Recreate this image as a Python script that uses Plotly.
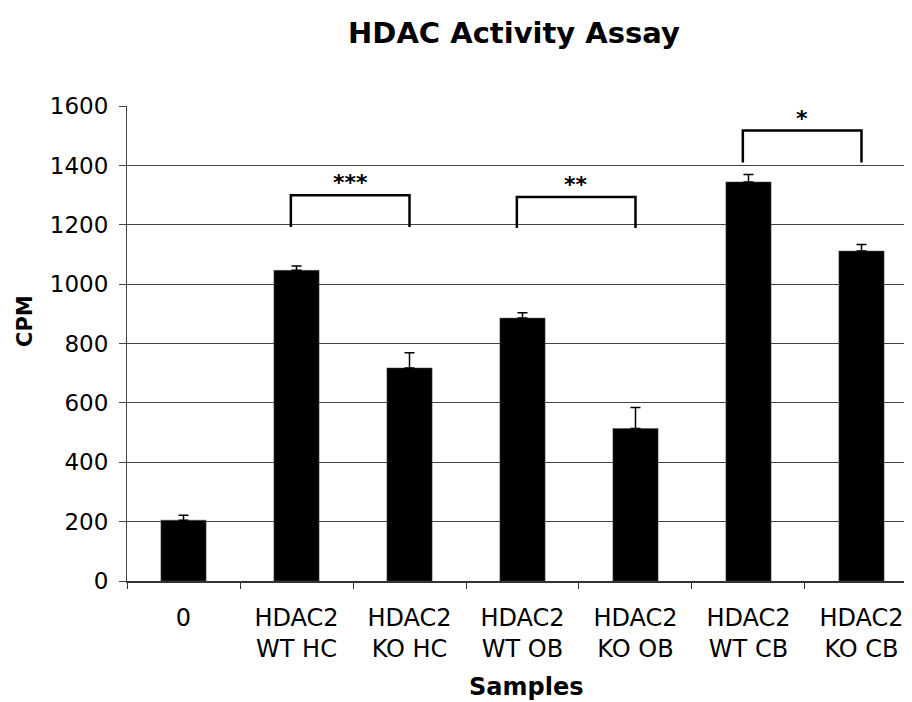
import plotly.graph_objects as go

categories = ["0", "HDAC2<br>WT HC", "HDAC2<br>KO HC", "HDAC2<br>WT OB",
              "HDAC2<br>KO OB", "HDAC2<br>WT CB", "HDAC2<br>KO CB"]
cpm = [205, 1047, 718, 886, 514, 1345, 1112]
cpm_err = [17, 15, 51, 18, 71, 25, 22]

y_ticks = [0, 200, 400, 600, 800, 1000, 1200, 1400, 1600]

# significance brackets: (left category index, right category index, top, leg bottom, label)
br_left = [1, 3, 5]
br_right = [2, 4, 6]
br_top = [1300, 1294, 1518]
br_bottom = [1193, 1190, 1410]
br_label = ["***", "**", "*"]

FONT = "DejaVu Sans"

# the page body adds an 8px offset; figure sized to fill the rest of the window
W, H = 904, 694
L, T, B = 119, 98, 121
PH = H - T - B

fig = go.Figure()
fig.add_trace(go.Bar(
    x=list(range(len(categories))), y=cpm,
    width=0.40,
    marker=dict(color="black", line=dict(color="#555555", width=0.5)),
    error_y=dict(type="data", symmetric=False, array=cpm_err,
                 arrayminus=[0] * len(cpm_err),
                 color="black", thickness=1.5, width=5),
    showlegend=False,
))

shapes = []
annotations = []
for l, r, t, b, lab in zip(br_left, br_right, br_top, br_bottom, br_label):
    x0 = l - 0.05
    x1 = r - 0.0
    shapes.append(dict(type="path", xref="x", yref="y",
                       path=f"M {x0},{b} L {x0},{t} L {x1},{t} L {x1},{b}",
                       line=dict(color="black", width=2.5)))
    annotations.append(dict(x=(x0 + x1) / 2, y=t, xref="x", yref="y",
                            text=f"<b>{lab}</b>", showarrow=False,
                            yanchor="bottom", yshift=-2,
                            font=dict(family=FONT, size=22, color="black")))

annotations.append(dict(x=(518 - L) / (W - L), y=(T + PH - 679) / PH,
                        xref="paper", yref="paper",
                        text="<b>Samples</b>", showarrow=False,
                        xanchor="center", yanchor="middle",
                        font=dict(family=FONT, size=24, color="black")))
annotations.append(dict(x=(17 - L) / (W - L), y=(T + PH - 313) / PH,
                        xref="paper", yref="paper",
                        text="<b>CPM</b>", showarrow=False, textangle=-90,
                        xanchor="center", yanchor="middle",
                        font=dict(family=FONT, size=21, color="black")))

fig.update_layout(
    width=W, height=H,
    margin=dict(l=L, r=0, t=T, b=B, pad=0),
    plot_bgcolor="white", paper_bgcolor="white",
    title=dict(text="<b>HDAC Activity Assay</b>", xref="container", yref="container",
               x=506 / W, y=1 - 25 / H, xanchor="center", yanchor="middle",
               font=dict(family=FONT, size=29, color="black")),
    font=dict(family=FONT, color="black"),
    shapes=shapes,
    annotations=annotations,
)

fig.update_xaxes(
    range=[-0.5, 6.447],
    tickmode="array", tickvals=list(range(len(categories))), ticktext=categories,
    showline=True, linecolor="#333333", linewidth=1.5,
    ticks="", showgrid=False, zeroline=False,
    ticklabelstandoff=14,
    tickfont=dict(family=FONT, size=24, color="black"),
)

fig.update_yaxes(
    range=[0, 1600.8], tickvals=y_ticks,
    showline=True, linecolor="#444444", linewidth=1,
    ticks="outside", ticklen=7, tickcolor="#444444",
    showgrid=True, gridcolor="#444444", gridwidth=1,
    zeroline=False,
    ticklabelstandoff=6,
    tickfont=dict(family=FONT, size=23, color="black"),
)

# category-boundary tick marks below the x axis, via an overlaying axis
fig.update_layout(xaxis2=dict(overlaying="x", range=[-0.5, 6.447],
                              tickmode="array",
                              tickvals=[i - 0.5 for i in range(len(categories) + 1)],
                              ticktext=[""] * (len(categories) + 1),
                              ticks="outside", ticklen=7, tickcolor="#333333",
                              side="bottom", showgrid=False, zeroline=False,
                              showline=False, anchor="y"))
fig.add_trace(go.Scatter(x=[None], y=[None], xaxis="x2", showlegend=False, hoverinfo="skip"))

fig.write_html("out.html")
